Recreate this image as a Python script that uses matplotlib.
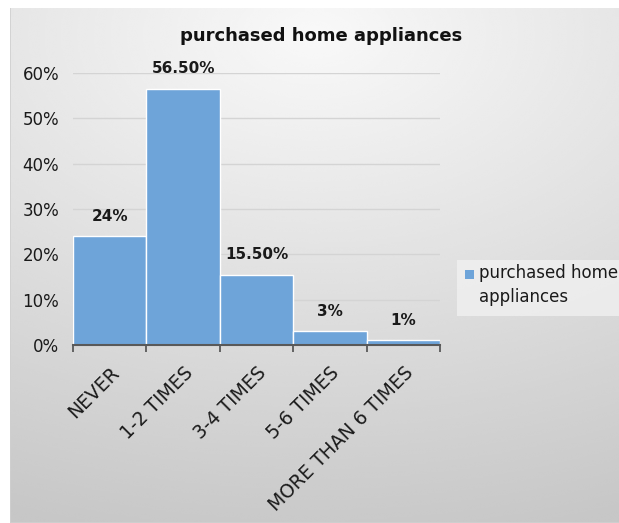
import matplotlib
matplotlib.use("Agg")
import matplotlib.pyplot as plt
from matplotlib.patches import Rectangle
from matplotlib.ticker import FixedLocator, PercentFormatter
import numpy as np

categories = ["NEVER", "1-2 TIMES", "3-4 TIMES", "5-6 TIMES", "MORE THAN 6 TIMES"]
shares = [24.0, 56.5, 15.5, 3.0, 1.0]
value_labels = ["24%", "56.50%", "15.50%", "3%", "1%"]
series_name = "purchased home appliances"
legend_label = "purchased home\nappliances"

BAR = "#6ea4d9"
INK = "#1a1a1a"
W, H = 619, 523

plt.rcParams["font.family"] = ["DejaVu Sans"]

fig = plt.figure(figsize=(W / 100, H / 100), dpi=100)
fig.patch.set_facecolor("white")

# chart area with a soft radial shading, light near the title
bg = fig.add_axes([10 / W, 0, (W - 10) / W, (H - 8) / H], zorder=0)
yy, xx = np.mgrid[0:1:300j, 0:1:360j]
dist = np.sqrt(((xx - 0.5) * 0.85) ** 2 + ((yy - 0.05) * 1.15) ** 2)
shade = np.clip(0.975 - 0.17 * dist, 0.78, 0.98)
bg.imshow(shade, cmap="gray", vmin=0, vmax=1, aspect="auto",
          extent=[0, 1, 1, 0], interpolation="bicubic")
bg.set_xlim(0, 1)
bg.set_ylim(1, 0)
bg.axis("off")
for x0, y0, x1, y1 in [(0, 0, 1, 0), (0, 0, 0, 1)]:
    bg.plot([x0, x1], [y0, y1], color="#d0d0d0", lw=1.2, transform=bg.transAxes)

ax = fig.add_axes([73 / W, 178 / H, 367 / W, 272 / H], zorder=1)
ax.patch.set_alpha(0)

x = np.arange(len(categories))
bars = ax.bar(x, shares, width=1.0, color=BAR, edgecolor="white", linewidth=1.0, zorder=2)

for rect, txt in zip(bars, value_labels):
    ax.annotate(txt, (rect.get_x() + rect.get_width() / 2, rect.get_height()),
                xytext=(0, 14.5), textcoords="offset points", ha="center", va="center",
                fontsize=11, fontweight="bold", color=INK)

ax.set_xlim(-0.5, len(categories) - 0.5)
ax.set_ylim(0, 60)
ax.set_yticks(np.arange(0, 61, 10))
ax.yaxis.set_major_formatter(PercentFormatter(decimals=0))
ax.grid(axis="y", color="#d4d4d4", lw=1.0, zorder=0)
ax.tick_params(axis="y", length=0, labelsize=12, pad=10, labelcolor=INK)

ax.set_xticks(x)
ax.set_xticklabels(categories, rotation=45, ha="right", rotation_mode="anchor",
                   fontsize=13.5, color=INK)
ax.tick_params(axis="x", which="major", length=0, pad=13)
ax.xaxis.set_minor_locator(FixedLocator(np.arange(-0.5, len(categories), 1.0)))
ax.tick_params(axis="x", which="minor", length=5, width=1.3, color="#595959", direction="out")

for side in ("top", "right", "left"):
    ax.spines[side].set_visible(False)
ax.spines["bottom"].set_color("#595959")
ax.spines["bottom"].set_linewidth(1.5)
ax.spines["bottom"].set_zorder(3)

fig.text(321 / W, 1 - 36 / H, series_name, ha="center", va="center",
         fontsize=13, fontweight="bold", color="#111111")

# legend: light box, square swatch beside the first line of text
fig.patches.append(Rectangle((457 / W, 1 - 316 / H), (W - 457) / W, 56 / H,
                             transform=fig.transFigure, facecolor="#f2f2f2",
                             edgecolor="none", alpha=0.75, zorder=1))
fig.patches.append(Rectangle((465 / W, 1 - 279 / H), 9 / W, 9 / H,
                             transform=fig.transFigure, facecolor=BAR,
                             edgecolor="none", zorder=2))
fig.text(479 / W, 1 - 264 / H, legend_label, ha="left", va="top",
         fontsize=12, color=INK, linespacing=1.45, zorder=3)

fig.savefig("out.png", dpi=100)
